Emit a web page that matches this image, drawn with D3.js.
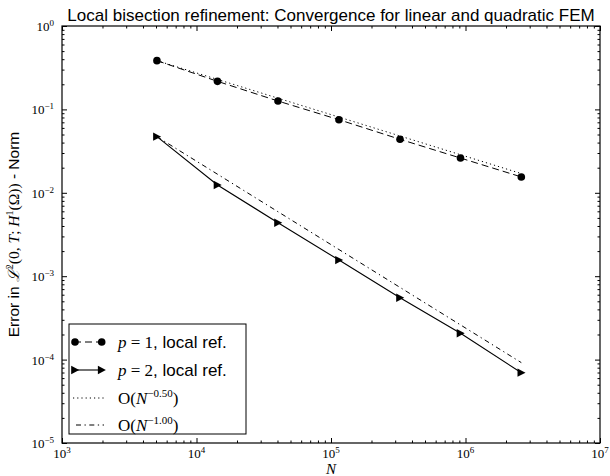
<!DOCTYPE html>
<html><head><meta charset="utf-8">
<script src="https://cdn.jsdelivr.net/npm/d3@7"></script>
<style>body{margin:0;background:#fff}svg{display:block}</style>
</head><body>
<svg id="c" width="610" height="476"></svg>
<script>
// ---- data ----
const N = [5080, 14320, 40360, 114600, 325900, 918000, 2600000];
const errP1 = [0.384, 0.217, 0.126, 0.0752, 0.0438, 0.0261, 0.0155];
const errP2 = [0.0471, 0.01241, 0.00438, 0.00156, 0.000552, 0.000207, 0.0000697];
const refN = [5080, 2600000];
const ref05 = [0.384, 0.0170];
const ref10 = [0.0471, 0.000092];
const xExps = [3, 4, 5, 6, 7];
const yExps = [0, -1, -2, -3, -4, -5];
const titleText = "Local bisection refinement: Convergence for linear and quadratic FEM";

const SANS = "'Liberation Sans', Arial, sans-serif";
const SERIF = "'Liberation Serif', 'DejaVu Serif', serif";
const svg = d3.select("#c");
const L = 62, R = 600, T = 26, B = 443;
const x = d3.scaleLog().domain([1e3, 1e7]).range([L, R]);
const y = d3.scaleLog().domain([1e-5, 1e0]).range([B, T]);

// minor tick values
const minorX = [], minorY = [];
for (let e = 3; e < 7; e++) for (let k = 2; k <= 9; k++) minorX.push(k * Math.pow(10, e));
for (let e = -5; e < 0; e++) for (let k = 2; k <= 9; k++) minorY.push(k * Math.pow(10, e));
const majX = xExps.map(e => Math.pow(10, e));
const majY = yExps.map(e => Math.pow(10, e));

function axisStyle(g){ g.select(".domain").remove(); g.selectAll("line").attr("stroke","#000").attr("stroke-width",1); g.selectAll("text").remove(); }
// inward ticks on all four sides
svg.append("g").attr("transform",`translate(0,${B})`).call(d3.axisBottom(x).tickValues(majX).tickSize(-5).tickFormat("")).call(axisStyle);
svg.append("g").attr("transform",`translate(0,${B})`).call(d3.axisBottom(x).tickValues(minorX).tickSize(-2.5).tickFormat("")).call(axisStyle);
svg.append("g").attr("transform",`translate(0,${T})`).call(d3.axisTop(x).tickValues(majX).tickSize(-5).tickFormat("")).call(axisStyle);
svg.append("g").attr("transform",`translate(0,${T})`).call(d3.axisTop(x).tickValues(minorX).tickSize(-2.5).tickFormat("")).call(axisStyle);
svg.append("g").attr("transform",`translate(${L},0)`).call(d3.axisLeft(y).tickValues(majY).tickSize(-5).tickFormat("")).call(axisStyle);
svg.append("g").attr("transform",`translate(${L},0)`).call(d3.axisLeft(y).tickValues(minorY).tickSize(-2.5).tickFormat("")).call(axisStyle);
svg.append("g").attr("transform",`translate(${R},0)`).call(d3.axisRight(y).tickValues(majY).tickSize(-5).tickFormat("")).call(axisStyle);
svg.append("g").attr("transform",`translate(${R},0)`).call(d3.axisRight(y).tickValues(minorY).tickSize(-2.5).tickFormat("")).call(axisStyle);

// frame
svg.append("rect").attr("x",L).attr("y",T).attr("width",R-L).attr("height",B-T)
  .attr("fill","none").attr("stroke","#000").attr("stroke-width",1.2);

// tick labels
function pow10(sel, e){
  sel.append("tspan").text("10");
  sel.append("tspan").attr("dy",-5).attr("font-size",9).text(String(e).replace("-","\u2212"));
}
xExps.forEach(e=>{
  svg.append("text").attr("x",x(Math.pow(10,e))).attr("y",B+15).attr("text-anchor","middle")
    .attr("font-family",SERIF).attr("font-size",13).call(pow10,e);
});
yExps.forEach(e=>{
  svg.append("text").attr("x",L-8).attr("y",y(Math.pow(10,e))+5).attr("text-anchor","end")
    .attr("font-family",SERIF).attr("font-size",13).call(pow10,e);
});

// lines
const line = d3.line().x(d=>x(d[0])).y(d=>y(d[1]));
const p1 = N.map((n,i)=>[n,errP1[i]]);
const p2 = N.map((n,i)=>[n,errP2[i]]);
const r05 = refN.map((n,i)=>[n,ref05[i]]);
const r10 = refN.map((n,i)=>[n,ref10[i]]);
const DASH = "7,4", DOT = "1.2,3", DASHDOT = "5,3.5,1.3,3.5";
svg.append("path").attr("d",line(r05)).attr("fill","none").attr("stroke","#000").attr("stroke-width",1).attr("stroke-dasharray",DOT);
svg.append("path").attr("d",line(r10)).attr("fill","none").attr("stroke","#000").attr("stroke-width",1).attr("stroke-dasharray",DASHDOT);
svg.append("path").attr("d",line(p1)).attr("fill","none").attr("stroke","#000").attr("stroke-width",1).attr("stroke-dasharray",DASH);
svg.append("path").attr("d",line(p2)).attr("fill","none").attr("stroke","#000").attr("stroke-width",1.1);
const tri = "M-3.8,-4.2L4.2,0L-3.8,4.2Z";
svg.selectAll(".c1").data(p1).enter().append("circle").attr("cx",d=>x(d[0])).attr("cy",d=>y(d[1])).attr("r",3.8).attr("fill","#000");
svg.selectAll(".t2").data(p2).enter().append("path").attr("d",tri).attr("transform",d=>`translate(${x(d[0])},${y(d[1])})`).attr("fill","#000");

// title
svg.append("text").attr("x",(L+R)/2).attr("y",21).attr("text-anchor","middle")
  .attr("font-family",SANS).attr("font-size",17).text(titleText);

// x label
svg.append("text").attr("x",(L+R)/2).attr("y",474).attr("text-anchor","middle")
  .attr("font-family",SERIF).attr("font-style","italic").attr("font-size",15).text("N");

// y label
const yl = svg.append("text").attr("transform",`translate(19,${(T+B)/2}) rotate(-90)`).attr("text-anchor","middle")
  .attr("font-family",SANS).attr("font-size",15.5);
yl.append("tspan").text("Error in ");
yl.append("tspan").attr("font-family",SERIF).attr("font-style","italic").text("\u2112");
yl.append("tspan").attr("font-family",SERIF).attr("font-size",10).attr("dy",-6).text("2");
yl.append("tspan").attr("font-family",SERIF).attr("dy",6).text("(0, ");
yl.append("tspan").attr("font-family",SERIF).attr("font-style","italic").text("T");
yl.append("tspan").attr("font-family",SERIF).text("; ");
yl.append("tspan").attr("font-family",SERIF).attr("font-style","italic").text("H");
yl.append("tspan").attr("font-family",SERIF).attr("font-size",10).attr("dy",-6).text("1");
yl.append("tspan").attr("font-family",SERIF).attr("dy",6).text("(\u03A9))");
yl.append("tspan").text(" - Norm");

// legend
const lg = svg.append("g");
lg.append("rect").attr("x",69).attr("y",324).attr("width",177).attr("height",110)
  .attr("fill","#fff").attr("stroke","#000").attr("stroke-width",1);
const rows = [342, 370, 398, 425];
const lx0 = 73, lx1 = 104, mk = [75, 101.7], tx = 118;
// row 1
lg.append("line").attr("x1",lx0).attr("x2",lx1).attr("y1",rows[0]).attr("y2",rows[0]).attr("stroke","#000").attr("stroke-dasharray","7,4").attr("stroke-dashoffset",-1);
mk.forEach(m=>lg.append("circle").attr("cx",m).attr("cy",rows[0]).attr("r",3.8).attr("fill","#000"));
// row 2
lg.append("line").attr("x1",lx0).attr("x2",lx1).attr("y1",rows[1]).attr("y2",rows[1]).attr("stroke","#000").attr("stroke-width",1.1);
mk.forEach(m=>lg.append("path").attr("d",tri).attr("transform",`translate(${m},${rows[1]})`).attr("fill","#000"));
// row 3, 4
lg.append("line").attr("x1",lx0).attr("x2",lx1).attr("y1",rows[2]).attr("y2",rows[2]).attr("stroke","#000").attr("stroke-dasharray",DOT);
lg.append("line").attr("x1",lx0+3).attr("x2",lx1).attr("y1",rows[3]).attr("y2",rows[3]).attr("stroke","#000").attr("stroke-dasharray",DASHDOT);

function pLabel(yy, val){
  const t = lg.append("text").attr("x",tx).attr("y",yy+5.5).attr("font-size",17).attr("font-family",SERIF);
  t.append("tspan").attr("font-style","italic").text("p");
  t.append("tspan").text(" = " + val);
  t.append("tspan").attr("font-family",SANS).text(", local ref.");
}
pLabel(rows[0], "1");
pLabel(rows[1], "2");
function oLabel(yy, ex){
  const t = lg.append("text").attr("x",tx).attr("y",yy+5.5).attr("font-size",17).attr("font-family",SERIF);
  t.append("tspan").text("O");
  t.append("tspan").text("(");
  t.append("tspan").attr("font-style","italic").text("N");
  t.append("tspan").attr("font-size",11).attr("dy",-7).text(ex);
  t.append("tspan").attr("dy",7).text(")");
}
oLabel(rows[2], "\u22120.50");
oLabel(rows[3], "\u22121.00");
</script>
</body></html>
